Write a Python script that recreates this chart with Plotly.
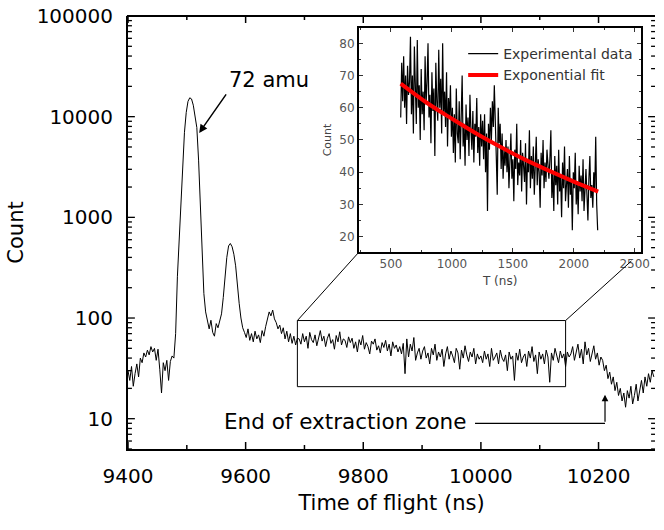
import numpy as np
import plotly.graph_objects as go

# ---------------- main spectrum (time of flight, 3 ns bins) ----------------
tof_start = 9400
tof_step = 3
counts_pre = [30, 24, 33, 21, 28, 35, 26, 40, 36, 45, 41, 48, 43, 52, 46, 50, 38, 49,
              31, 18, 36, 30, 38, 24, 37, 42, 40]
counts_peak72 = [70, 260, 650, 1400, 3700, 7000, 11000, 14200, 15400, 15000, 13000,
                 10500, 7800, 3700, 1400, 480, 175, 115, 92]
counts_valley = [78, 95, 72, 66, 88, 80, 96]
counts_peak2 = [110, 160, 260, 400, 520, 550, 510, 430, 330, 200, 140, 100, 80]
counts_peak3 = [72, 64, 78, 60, 70, 58, 74, 62, 68, 57, 75, 66, 82, 95, 115, 105, 120,
                98, 90, 78]
counts_tail3 = [85, 70, 80, 62, 74, 58, 70, 56, 66, 54, 63]
counts_plateau_a = [62, 55, 70, 58, 66, 50, 72, 61, 57, 68, 53, 64, 75, 59, 66, 52, 63,
                    70, 56, 61, 49, 67, 58, 73, 54, 62, 60, 51, 65, 57]
counts_plateau_b = [63, 50, 58, 46, 61, 54, 67, 49, 57, 52, 44, 59, 55, 62, 48, 53, 45,
                    57, 51, 60, 47, 55, 42, 58, 50, 54, 46]
counts_plateau_c = [52, 44, 56, 28, 62, 41, 55, 47, 64, 38, 45, 50, 39]
counts_plateau_d = [47, 52, 40, 45, 35, 50, 43, 55, 38, 46, 41, 49, 33, 44, 52, 39, 47,
                    42, 36, 50, 45, 31, 48, 40, 53, 43, 37, 46, 41, 50, 35, 44, 39]
counts_plateau_e = [42, 36, 47, 39, 44, 33, 50, 38, 41, 45, 35, 48, 40, 37, 43, 30, 46,
                    39, 42, 24, 45, 38, 49, 36, 41, 44, 33, 47, 40, 52, 37, 43, 28, 46,
                    39, 44, 35, 48, 41, 23, 45, 38, 50, 42, 36, 47, 40, 44, 33, 46, 41]
counts_edge = [44, 52, 38, 47, 55, 40, 49, 35, 58, 43, 50, 37, 46, 53, 39, 45, 34, 41]
counts_drop = [38, 30, 34, 25, 29, 22, 26, 19, 23, 17]
counts_low = [20, 15, 18, 13, 19, 16, 21, 14, 17, 22, 15, 19]
counts_end = [24, 18, 26, 21, 28, 23, 30, 26]

main_counts = (counts_pre + counts_peak72 + counts_valley + counts_peak2 + counts_peak3
               + counts_tail3 + counts_plateau_a + counts_plateau_b + counts_plateau_c
               + counts_plateau_d + counts_plateau_e + counts_edge + counts_drop
               + counts_low + counts_end)
main_tof = tof_start + tof_step * np.arange(len(main_counts))

# ---------------- inset (zoomed plateau, 8 ns bins) ----------------
t_start = 580
t_step = 8
inset_seg1 = [57, 74, 62, 76, 60, 70, 55, 73, 64, 68]
inset_seg2 = [82, 58, 70, 52, 79, 63, 55, 81, 60, 67, 50, 72, 58, 65, 53, 76, 61, 68,
              80, 57, 64, 49, 71, 59, 66, 45, 74, 62, 56, 78, 60, 69, 52, 80, 58, 65,
              54, 71, 48, 63, 57, 67, 51]
inset_seg3 = [60, 46, 58, 43, 66, 52, 49, 62, 44, 56, 70, 48, 55, 42, 61, 50, 57, 45,
              64, 53, 47, 59, 43, 55, 51, 63, 46, 54, 42, 58]
inset_seg4 = [48, 56, 44, 58, 40, 52, 28, 55, 47, 60, 50, 62, 54, 67, 58, 45, 33, 60,
              49, 55, 41, 52, 38, 47, 42, 50]
inset_seg5 = [40, 48, 35, 45, 52, 38, 44, 31, 47, 41, 55, 36, 43, 39, 50, 34, 46, 42,
              37, 49, 30, 44, 40, 53, 35, 45, 38, 48, 33, 42, 51, 36, 44, 40, 29, 46,
              39, 50, 35, 43, 37, 47, 41]
inset_seg6 = [38, 44, 53, 32, 40, 28, 45, 36, 42, 30, 47, 34, 39, 26, 43, 35, 48, 31,
              37, 41, 29, 45, 33, 38, 22, 40, 35, 46, 30, 37, 27, 42, 34, 39, 31, 44,
              28, 36, 41, 33, 25, 38, 45, 32, 36, 29, 40, 34, 51, 30, 22]
inset_counts = inset_seg1 + inset_seg2 + inset_seg3 + inset_seg4 + inset_seg5 + inset_seg6
inset_t = t_start + t_step * np.arange(len(inset_counts))

fit_t = [580, 800, 1000, 1200, 1400, 1600, 1800, 2000, 2200]
fit_counts = [67.5, 61.4, 56.6, 52.0, 47.8, 43.9, 40.4, 37.1, 34.0]

# ---------------- tick labels ----------------
x_tickvals = [9400, 9600, 9800, 10000, 10200]
x_ticktext = ["9400", "9600", "9800", "10000", "10200"]
x_minorvals = [9500, 9700, 9900, 10100]
y_tickvals = [10, 100, 1000, 10000, 100000]
y_ticktext = ["10", "100", "1000", "10000", "100000"]
y_minorvals = [m * 10 ** e for e in range(0, 5) for m in range(2, 10)]
ix_tickvals = [500, 1000, 1500, 2000, 2500]
ix_ticktext = ["500", "1000", "1500", "2000", "2500"]
iy_tickvals = [20, 30, 40, 50, 60, 70, 80]
iy_ticktext = ["20", "30", "40", "50", "60", "70", "80"]

# zoom box (data region shown in inset)
box_x = [9688, 10144]
box_y = [20.8, 94.4]

FONT = "DejaVu Sans"
X_RANGE = [9400, 10296]
Y_RANGE = [np.log10(5), 5]
INSET_XDOM = [0.4384, 0.974]
INSET_YDOM = [0.455, 0.9723]
PLOT_W = 664 - 128
PLOT_H = 530 - 16 - 81

fig = go.Figure()
fig.add_trace(go.Scatter(x=main_tof, y=main_counts, mode="lines",
                         line=dict(color="black", width=1), showlegend=False,
                         xaxis="x", yaxis="y"))
fig.add_trace(go.Scatter(x=inset_t, y=inset_counts, mode="lines",
                         line=dict(color="black", width=1.2),
                         name="Experimental data", xaxis="x2", yaxis="y2"))
fig.add_trace(go.Scatter(x=fit_t, y=fit_counts, mode="lines",
                         line=dict(color="#ff0000", width=4, shape="spline"),
                         name="Exponential fit", xaxis="x2", yaxis="y2"))


def px_x(v):
    return (v - X_RANGE[0]) / (X_RANGE[1] - X_RANGE[0])


def px_y(v):
    return (np.log10(v) - Y_RANGE[0]) / (Y_RANGE[1] - Y_RANGE[0])


shapes = [
    dict(type="rect", xref="x", yref="y", x0=box_x[0], x1=box_x[1], y0=box_y[0],
         y1=box_y[1], line=dict(color="black", width=1)),
    dict(type="line", xref="paper", yref="paper", x0=px_x(box_x[0]), y0=px_y(box_y[1]),
         x1=INSET_XDOM[0], y1=INSET_YDOM[0], line=dict(color="black", width=1)),
    dict(type="line", xref="paper", yref="paper", x0=px_x(box_x[1]), y0=px_y(box_y[1]),
         x1=0.9552, y1=0.4342, line=dict(color="black", width=1)),
    dict(type="line", xref="x", yref="y", x0=9990, x1=10211, y0=9.0, y1=9.0,
         line=dict(color="black", width=1.2)),
    # main panel frame: top line (bottom/left come from the axes)
    dict(type="line", xref="paper", yref="paper", x0=-0.002, x1=1, y0=1, y1=1,
         line=dict(color="black", width=2)),
]
# inward tick marks on all four sides of the main panel
for vals, ln in ((x_tickvals, 7), (x_minorvals, 4)):
    for v in vals:
        shapes.append(dict(type="line", xref="x", yref="paper", x0=v, x1=v, y0=0,
                           y1=ln / PLOT_H, line=dict(color="black", width=1.5)))
        shapes.append(dict(type="line", xref="x", yref="paper", x0=v, x1=v, y0=1,
                           y1=1 - ln / PLOT_H, line=dict(color="black", width=1.5)))
for vals, ln in ((y_tickvals, 7), (y_minorvals, 4)):
    for v in vals:
        shapes.append(dict(type="line", xref="paper", yref="y", x0=0, x1=ln / PLOT_W,
                           y0=v, y1=v, line=dict(color="black", width=1.3)))
        shapes.append(dict(type="line", xref="paper", yref="y", x0=1,
                           x1=1 - ln / PLOT_W, y0=v, y1=v,
                           line=dict(color="black", width=1.3)))

annotations = [
    dict(x=9639, y=4.363, xref="x", yref="y", text="72 amu", showarrow=False,
         font=dict(family=FONT, size=21, color="black")),
    dict(x=9521, y=3.839, xref="x", yref="y", text="", showarrow=True, ax=28, ay=-40,
         arrowhead=2, arrowsize=1.1, arrowwidth=1.5, arrowcolor="black"),
    dict(x=9559, y=0.970, xref="x", yref="y", text="End of extraction zone",
         showarrow=False, xanchor="left", yanchor="middle",
         font=dict(family=FONT, size=21.5, color="black")),
    dict(x=10211, y=1.238, xref="x", yref="y", text="", showarrow=True, ax=0, ay=28.5,
         arrowhead=2, arrowsize=1.1, arrowwidth=1.2, arrowcolor="black"),
]

fig.update_layout(
    width=664, height=530,
    margin=dict(l=128, r=0, t=16, b=81),
    paper_bgcolor="white", plot_bgcolor="white",
    font=dict(family=FONT, color="black"),
    shapes=shapes, annotations=annotations,
    legend=dict(x=0.636, y=0.949, xanchor="left", yanchor="top",
                bgcolor="rgba(0,0,0,0)", font=dict(family=FONT, size=14, color="#333")),
    # main axes: transparent outside ticks only push the labels away from the frame
    xaxis=dict(range=X_RANGE, showline=True, linewidth=2, linecolor="black",
               ticks="outside", ticklen=8, tickcolor="rgba(0,0,0,0)",
               tickmode="array", tickvals=x_tickvals, ticktext=x_ticktext,
               showgrid=False, zeroline=False,
               tickfont=dict(family=FONT, size=20, color="black"),
               title=dict(text="Time of flight (ns)", standoff=8,
                          font=dict(family=FONT, size=21, color="black"))),
    yaxis=dict(type="log", range=Y_RANGE, showline=True, linewidth=2, linecolor="black",
               ticks="outside", ticklen=9, tickcolor="rgba(0,0,0,0)",
               tickmode="array", tickvals=y_tickvals, ticktext=y_ticktext,
               showgrid=False, zeroline=False,
               tickfont=dict(family=FONT, size=20, color="black"),
               title=dict(text="Count", standoff=7,
                          font=dict(family=FONT, size=21, color="black"))),
    xaxis2=dict(domain=INSET_XDOM, anchor="y2", range=[238, 2554], showline=True,
                linewidth=2, linecolor="black", mirror="ticks", ticks="inside",
                ticklen=4, tickwidth=1, tickcolor="#333", tickmode="array",
                tickvals=ix_tickvals, ticktext=ix_ticktext, showgrid=False,
                zeroline=False,
                minor=dict(dtick=250, tick0=0, ticks="inside", ticklen=2,
                           tickcolor="#333"),
                tickfont=dict(family=FONT, size=12, color="#555"),
                title=dict(text="T (ns)", standoff=6,
                           font=dict(family=FONT, size=12, color="#444"))),
    yaxis2=dict(domain=INSET_YDOM, anchor="x2", range=[15.25, 84.75], showline=True,
                linewidth=2, linecolor="black", mirror="ticks", ticks="inside",
                ticklen=4, tickwidth=1, tickcolor="#333", tickmode="array",
                tickvals=iy_tickvals, ticktext=iy_ticktext, showgrid=False,
                zeroline=False,
                minor=dict(dtick=5, tick0=0, ticks="inside", ticklen=2,
                           tickcolor="#333"),
                tickfont=dict(family=FONT, size=12, color="#555"),
                title=dict(text="Count", standoff=6,
                           font=dict(family=FONT, size=11, color="#444"))),
)

# remove the default 8 px page margin so the figure sits at the window origin
fig.write_html("out.html", config={"displayModeBar": False},
               post_script="document.body.style.margin='0';"
                           "document.body.style.padding='0';")
